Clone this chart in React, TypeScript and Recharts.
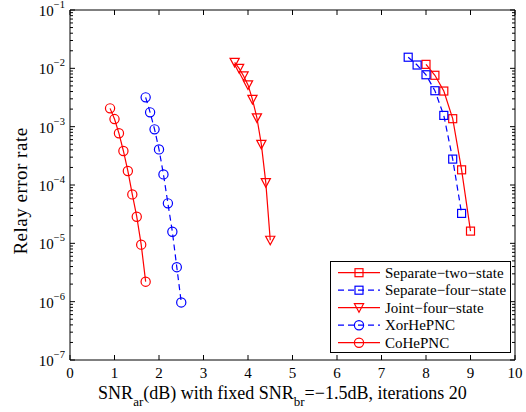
import React from 'react';
import { LineChart, Line, XAxis, YAxis } from 'recharts';

// values (x in dB, y = relay error rate)
const coX = [0.9, 1.0, 1.1, 1.2, 1.3, 1.4, 1.5, 1.6, 1.7];
const coY = [2.06e-3, 1.35e-3, 7.7e-4, 3.83e-4, 1.74e-4, 6.9e-5, 2.86e-5, 9.5e-6, 2.2e-6];

const xorX = [1.7, 1.8, 1.9, 2.0, 2.1, 2.2, 2.3, 2.4, 2.5];
const xorY = [3.18e-3, 1.76e-3, 9.0e-4, 4.08e-4, 1.52e-4, 4.85e-5, 1.58e-5, 3.9e-6, 9.7e-7];

const jointX = [3.7, 3.8, 3.9, 4.0, 4.1, 4.2, 4.3, 4.4, 4.5];
const jointY = [1.27e-2, 1.0e-2, 7.4e-3, 5.2e-3, 2.94e-3, 1.42e-3, 4.97e-4, 1.1e-4, 1.13e-5];

const sep4X = [7.6, 7.8, 8.0, 8.2, 8.4, 8.6, 8.8];
const sep4Y = [1.55e-2, 1.14e-2, 7.76e-3, 4.13e-3, 1.56e-3, 2.78e-4, 3.26e-5];

const sep2X = [8.0, 8.2, 8.4, 8.6, 8.8, 9.0];
const sep2Y = [1.17e-2, 7.6e-3, 4.08e-3, 1.37e-3, 1.82e-4, 1.62e-5];

const xTicks = [0, 1, 2, 3, 4, 5, 6, 7, 8, 9, 10];
const yMajor = [1e-7, 1e-6, 1e-5, 1e-4, 1e-3, 1e-2, 1e-1];
const yMajorLabels = ['\u22127', '\u22126', '\u22125', '\u22124', '\u22123', '\u22122', '\u22121'];
const yMinorMult = [2, 3, 4, 5, 6, 7, 8, 9];

const yTicks: number[] = [];
yMajor.forEach((m, i) => {
  yTicks.push(m);
  if (i < yMajor.length - 1) yMinorMult.forEach((k) => yTicks.push(m * k));
});

const zip = (xs: number[], ys: number[]) => xs.map((x, i) => ({ x, y: ys[i] }));

const RED = '#ff0000';
const BLUE = '#0000ff';
const FONT = '"Liberation Serif", "Times New Roman", serif';

type Shape = 'square' | 'circle' | 'triangle';

const series = [
  { name: 'Separate\u2212two\u2212state', data: zip(sep2X, sep2Y), color: RED, dash: undefined, shape: 'square' as Shape },
  { name: 'Separate\u2212four\u2212state', data: zip(sep4X, sep4Y), color: BLUE, dash: '6 4', shape: 'square' as Shape },
  { name: 'Joint\u2212four\u2212state', data: zip(jointX, jointY), color: RED, dash: undefined, shape: 'triangle' as Shape },
  { name: 'XorHePNC', data: zip(xorX, xorY), color: BLUE, dash: '6 4', shape: 'circle' as Shape },
  { name: 'CoHePNC', data: zip(coX, coY), color: RED, dash: undefined, shape: 'circle' as Shape },
];

const Marker = ({ cx, cy, shape, color }: { cx: number; cy: number; shape: Shape; color: string }) => {
  if (cx == null || cy == null) return null;
  const common = { fill: 'none', stroke: color, strokeWidth: 1.2 };
  if (shape === 'circle') return <circle cx={cx} cy={cy} r={4.6} {...common} />;
  if (shape === 'square') return <rect x={cx - 4} y={cy - 4} width={8} height={8} {...common} />;
  return <path d={`M${cx - 4.6},${cy - 4} L${cx + 4.6},${cy - 4} L${cx},${cy + 4.6} Z`} {...common} />;
};

const isMajor = (v: number) => yMajor.indexOf(v);

const LeftTick = (props: any) => {
  const { x, y, payload } = props;
  const mi = isMajor(payload.value);
  return (
    <g>
      <line x1={x} x2={x + (mi >= 0 ? 5 : 3)} y1={y} y2={y} stroke="#000" />
      {mi >= 0 && (
        <text x={x - 5} y={y + 6} textAnchor="end" fontFamily={FONT} fontSize={15} fill="#000">
          10
          <tspan dy={-8} fontSize={10.5}>
            {yMajorLabels[mi]}
          </tspan>
        </text>
      )}
    </g>
  );
};

const RightTick = (props: any) => {
  const { x, y, payload } = props;
  const mi = isMajor(payload.value);
  return <line x1={x} x2={x - (mi >= 0 ? 5 : 3)} y1={y} y2={y} stroke="#000" />;
};

const BottomTick = (props: any) => {
  const { x, y, payload } = props;
  return (
    <g>
      <line x1={x} x2={x} y1={y} y2={y - 5} stroke="#000" />
      <text x={x} y={y + 18} textAnchor="middle" fontFamily={FONT} fontSize={15} fill="#000">
        {payload.value}
      </text>
    </g>
  );
};

const TopTick = (props: any) => {
  const { x, y } = props;
  return <line x1={x} x2={x} y1={y} y2={y + 5} stroke="#000" />;
};

const XTitle = (props: any) => {
  const vb = props.viewBox || { x: 0, y: 0, width: 0 };
  const cx = vb.x + vb.width / 2 - 10;
  return (
    <text x={cx} y={399} textAnchor="middle" fontFamily={FONT} fontSize={18} fill="#000">
      SNR
      <tspan dy={7} fontSize={13}>ar</tspan>
      <tspan dy={-7}>(dB) with fixed SNR</tspan>
      <tspan dy={7} fontSize={13}>br</tspan>
      <tspan dy={-7}>{'=\u22121.5dB, iterations 20'}</tspan>
    </text>
  );
};

const LegendBox = () => (
  <svg
    width={181}
    height={92}
    style={{ position: 'absolute', left: 330, top: 261, background: '#fff', overflow: 'visible' }}
  >
    <rect x={0.5} y={0.5} width={180} height={91} fill="#fff" stroke="#000" strokeWidth={1} />
    {series.map((s, i) => {
      const cy = 11.7 + i * 17.5;
      return (
        <g key={s.name}>
          <line x1={8} x2={50} y1={cy} y2={cy} stroke={s.color} strokeWidth={1.2} strokeDasharray={s.dash} />
          <Marker cx={29} cy={cy} shape={s.shape} color={s.color} />
          <text x={55} y={cy + 5} fontFamily={FONT} fontSize={15} fill="#000">
            {s.name}
          </text>
        </g>
      );
    })}
  </svg>
);

export default function App() {
  return (
    <div style={{ position: 'relative', width: 526, height: 412, background: '#fff' }}>
      <style>{'body{margin:0;}'}</style>
      <LineChart width={526} height={412} margin={{ top: 9, right: 10, left: 0, bottom: 0 }}>
        <XAxis
          xAxisId="b"
          type="number"
          dataKey="x"
          domain={[0, 10]}
          ticks={xTicks}
          interval={0}
          allowDataOverflow
          height={52}
          tickSize={0}
          tickMargin={0}
          tick={<BottomTick />}
          axisLine={{ stroke: '#000' }}
          label={<XTitle />}
        />
        <XAxis
          xAxisId="t"
          orientation="top"
          type="number"
          dataKey="x"
          domain={[0, 10]}
          ticks={xTicks}
          interval={0}
          allowDataOverflow
          height={1}
          tickSize={0}
          tickMargin={0}
          tick={<TopTick />}
          axisLine={{ stroke: '#000' }}
        />
        <YAxis
          yAxisId="l"
          type="number"
          scale="log"
          dataKey="y"
          domain={[1e-7, 1e-1]}
          ticks={yTicks}
          interval={0}
          allowDataOverflow
          width={70}
          tickSize={0}
          tickMargin={0}
          tick={<LeftTick />}
          axisLine={{ stroke: '#000' }}
        />
        <YAxis
          yAxisId="r"
          orientation="right"
          type="number"
          scale="log"
          dataKey="y"
          domain={[1e-7, 1e-1]}
          ticks={yTicks}
          interval={0}
          allowDataOverflow
          width={1}
          tickSize={0}
          tickMargin={0}
          tick={<RightTick />}
          axisLine={{ stroke: '#000' }}
        />
        {series.map((s) => (
          <Line
            key={s.name}
            xAxisId="b"
            yAxisId="l"
            data={s.data}
            dataKey="y"
            type="linear"
            stroke={s.color}
            strokeWidth={1.2}
            strokeDasharray={s.dash}
            dot={(p: any) => <Marker key={p.index} cx={p.cx} cy={p.cy} shape={s.shape} color={s.color} />}
            activeDot={false}
            isAnimationActive={false}
          />
        ))}
      </LineChart>
      <svg
        width={40}
        height={412}
        style={{ position: 'absolute', left: 0, top: 0, overflow: 'visible' }}
      >
        <text
          x={26.5}
          y={191}
          transform="rotate(-90, 26.5, 191)"
          textAnchor="middle"
          fontFamily={FONT}
          fontSize={19}
          letterSpacing={0.5}
          fill="#000"
        >
          Relay error rate
        </text>
      </svg>
      <LegendBox />
    </div>
  );
}
